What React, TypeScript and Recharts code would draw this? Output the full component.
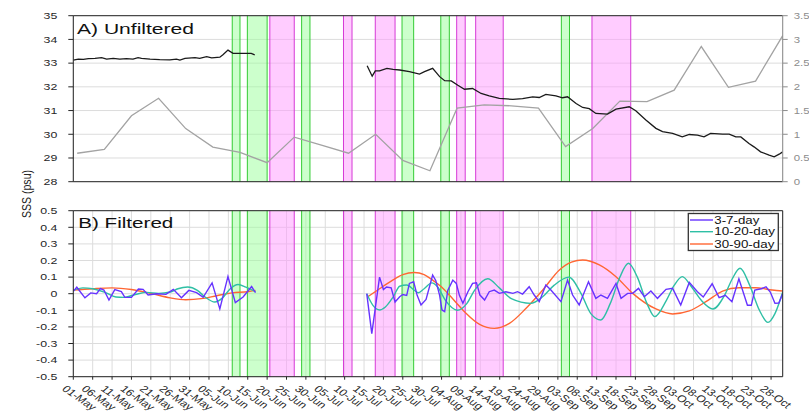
import { LineChart, Line, XAxis, YAxis, CartesianGrid, ReferenceArea, ReferenceLine } from 'recharts';

// x = days since 01-May
const dateLabels = [
  '01-May', '06-May', '11-May', '16-May', '21-May', '26-May', '31-May', '05-Jun', '10-Jun', '15-Jun',
  '20-Jun', '25-Jun', '30-Jun', '05-Jul', '10-Jul', '15-Jul', '20-Jul', '25-Jul', '30-Jul', '04-Aug',
  '09-Aug', '14-Aug', '19-Aug', '24-Aug', '29-Aug', '03-Sep', '08-Sep', '13-Sep', '18-Sep', '23-Sep',
  '28-Sep', '03-Oct', '08-Oct', '13-Oct', '18-Oct', '23-Oct', '28-Oct',
];
const dayTicks = dateLabels.map((_, i) => i * 5);

const sssTicks = [28, 29, 30, 31, 32, 33, 34, 35];
const rightTicks = [0, 0.5, 1, 1.5, 2, 2.5, 3, 3.5];
const filtTicks = [-0.5, -0.4, -0.3, -0.2, -0.1, 0, 0.1, 0.2, 0.3, 0.4, 0.5];

const greenPeriods = [[41.0, 43.0], [44.9, 50.0], [58.9, 61.05], [84.8, 87.8], [94.8, 97.0], [125.9, 128.0]];
const magentaPeriods = [[50.7, 57.0], [69.7, 71.9], [77.9, 83.0], [98.9, 101.1], [103.8, 110.9], [133.8, 143.8]];

// A) unfiltered SSS (black)
const sss = [
  [0, 33.13], [1.3, 33.17], [2.6, 33.16], [3.9, 33.19], [5.6, 33.2], [7.3, 33.23], [8.6, 33.17], [10.3, 33.2],
  [12.0, 33.17], [13.7, 33.19], [15.4, 33.17], [16.7, 33.23], [17.6, 33.2], [19.8, 33.17], [22.3, 33.15],
  [24.9, 33.14], [26.6, 33.17], [27.5, 33.13], [28.8, 33.2], [31.4, 33.23], [32.6, 33.2], [34.4, 33.27],
  [35.7, 33.22], [37.8, 33.25], [38.6, 33.35], [39.9, 33.55], [41.2, 33.41], [42.9, 33.41], [45.9, 33.41],
  [46.8, 33.35], [60, null],
  [75.8, 32.89], [77.1, 32.45], [77.9, 32.67], [79.0, 32.67], [80.9, 32.78], [82.5, 32.74], [84.2, 32.71],
  [86.7, 32.64], [89.3, 32.54], [90.6, 32.64], [92.7, 32.78], [94.5, 32.43], [95.8, 32.26], [97.5, 32.25],
  [99.2, 32.07], [100.9, 31.9], [103.0, 31.93], [105.2, 31.72], [107.3, 31.62], [109.9, 31.51], [113.4, 31.47],
  [115.9, 31.5], [118.5, 31.58], [120.2, 31.55], [121.9, 31.68], [124.5, 31.62], [126.2, 31.54], [127.5, 31.58],
  [129.7, 31.3], [131.4, 31.13], [133.1, 31.08], [134.8, 30.88], [137.8, 30.85], [140.0, 31.06], [143.4, 31.16],
  [145.1, 30.99], [147.7, 30.6], [150.3, 30.25], [152.0, 30.11], [154.6, 30.04], [157.1, 29.89], [158.9, 29.99],
  [161.0, 29.96], [162.7, 29.89], [164.4, 30.04], [167.5, 30.01], [169.2, 30.01], [170.9, 29.89], [172.2, 29.89],
  [174.3, 29.61], [175.6, 29.47], [177.3, 29.26], [179.5, 29.12], [180.8, 29.05], [182.1, 29.16], [183, 29.26],
];

// A) weekly series on the right axis (grey)
const weekly = [
  [1, 0.6], [8, 0.68], [15, 1.39], [22, 1.76], [29, 1.12], [36, 0.73], [43, 0.62], [50, 0.4], [57, 0.94],
  [64, 0.77], [71, 0.6], [78, 1.0], [85, 0.45], [92, 0.23], [99, 1.55], [106, 1.62], [113, 1.6], [120, 1.55],
  [127, 0.74], [134, 1.12], [141, 1.7], [148, 1.69], [155, 1.93], [162, 2.85], [169, 1.99], [176, 2.12], [183, 3.08],
];

// B) filtered
const band3to7 = [
  [0, 0.014], [0.9, 0.039], [3.0, -0.025], [4.5, 0.005], [6.0, 0.0], [7.0, 0.031], [7.9, 0.022], [9.2, -0.038],
  [10.7, 0.025], [12.4, 0.012], [13.3, -0.022], [15.0, -0.022], [16.8, 0.028], [18.0, 0.026], [19.3, -0.008],
  [21.5, 0.0], [23.9, -0.004], [25.8, 0.026], [27.9, -0.024], [29.8, 0.02], [31.8, 0.006], [33.5, -0.022],
  [35.8, 0.065], [37.8, -0.092], [39.9, 0.104], [41.8, -0.054], [43.8, -0.02], [46.0, 0.043], [47.0, 0.006],
  [60, null],
  [75.7, 0.0], [77.0, -0.24], [79.0, 0.1], [80.0, 0.025], [80.8, 0.04], [82.0, 0.035], [83.0, -0.05],
  [84.2, -0.018], [85.0, -0.005], [86.0, -0.01], [86.7, 0.062], [87.8, 0.072], [88.7, -0.01], [89.7, -0.068],
  [91.0, -0.035], [92.7, 0.112], [93.5, 0.08], [94.5, -0.01], [95.1, -0.098], [95.8, -0.108], [96.6, 0.02],
  [97.9, 0.082], [98.8, 0.062], [99.6, -0.01], [100.5, -0.058], [101.8, 0.012], [103.0, 0.062], [104.0, 0.066],
  [104.9, -0.008], [106.1, -0.038], [107.3, 0.012], [108.6, 0.022], [109.9, 0.002], [111.6, 0.012], [113.4, 0.002],
  [114.6, 0.012], [115.9, -0.002], [117.6, 0.042], [118.9, -0.008], [120.2, -0.048], [121.9, 0.052], [123.2, 0.022],
  [125.8, -0.048], [127.5, 0.082], [128.8, -0.008], [130.5, -0.068], [132.9, 0.072], [134.8, -0.028], [136.1, -0.008],
  [137.8, -0.028], [140.0, 0.062], [141.3, -0.028], [143.0, 0.002], [144.3, 0.002], [145.8, 0.032], [147.3, -0.018],
  [149.0, 0.016], [150.7, -0.028], [152.9, 0.026], [154.6, 0.032], [156.7, -0.068], [158.9, 0.068], [161.0, 0.012],
  [162.5, -0.02], [164.8, 0.06], [166.6, -0.024], [168.2, -0.01], [169.9, -0.048], [171.7, 0.09], [173.9, -0.07],
  [174.9, -0.07], [175.8, 0.022], [177.5, 0.03], [178.7, 0.042], [179.8, 0.01], [181.0, -0.058], [182.0, -0.056],
  [183, 0.0],
];

const band10to20 = [
  [0, 0.02], [2.5, 0.035], [5, 0.03], [8, 0.01], [11, -0.02], [13, -0.022], [16, -0.005], [19, 0.008], [22, 0.002],
  [25, 0.01], [27, 0.03], [29.5, 0.04], [32, 0.02], [34, -0.02], [36.5, -0.05], [38.5, -0.025], [40.5, 0.03],
  [42.5, 0.055], [44.5, 0.04], [47, 0.012], [60, null],
  [75.7, 0.0], [77.3, -0.07], [79.0, -0.098], [80.5, -0.08], [82.5, -0.02], [84.2, 0.045], [86.0, 0.052],
  [88.0, 0.02], [89.0, 0.006], [90.5, 0.03], [92.5, 0.065], [94, 0.04], [96, -0.04], [99.1, -0.1], [101.5, -0.06],
  [103.5, 0.02], [106.9, 0.09], [109.9, 0.035], [113, -0.03], [118, -0.058], [121, -0.02], [124, 0.05],
  [127.8, 0.1], [131, 0.0], [133.5, -0.12], [136.1, -0.158], [138.5, -0.06], [141, 0.1], [143.2, 0.183],
  [145.5, 0.1], [148, -0.06], [150, -0.138], [153, -0.04], [155, 0.05], [157.1, 0.103], [159.5, 0.04],
  [162, -0.04], [165, -0.092], [168, -0.01], [170, 0.09], [172, 0.153], [174.5, 0.05], [177, -0.1],
  [179.2, -0.173], [181, -0.12], [183, 0.01],
];

const band30to90 = [
  [0, 0.022], [5, 0.03], [10, 0.035], [15, 0.025], [20, 0.002], [25, -0.025], [29, -0.036], [33, -0.03],
  [37, -0.012], [41, 0.005], [45, 0.012], [47, 0.02], [60, null],
  [76, -0.018], [79, 0.03], [82.4, 0.082], [85, 0.115], [88, 0.128], [90.5, 0.115], [92.7, 0.082], [95, 0.04],
  [97, -0.008], [99, -0.06], [101.3, -0.118], [104.8, -0.185], [108.6, -0.209], [112.5, -0.179], [116.8, -0.088],
  [121.1, 0.022], [125.4, 0.143], [128.5, 0.19], [131.4, 0.203], [135.7, 0.173], [140, 0.102], [144.3, 0.002],
  [150.3, -0.092], [154.6, -0.122], [158.9, -0.104], [163.2, -0.048], [167.5, 0.016], [171.7, 0.036],
  [176, 0.036], [180.3, 0.022], [183, 0.016],
];

const toPts = (a: (number | null)[][]) => a.map(([d, v]) => ({ d, v }));

const AXIS = '#262626';
const GREY_AXIS = '#8c8c8c';
const GRID = '#dcdcdc';
const FONT = 'Liberation Sans, Arial, sans-serif';
const PURPLE = '#6633ff';
const TEAL = '#2fbfa5';
const ORANGE = '#ff6633';

const LeftTick = ({ x, y, payload }: any) => (
  <text transform={`translate(${x},${y}) scale(1.3,1)`} textAnchor="end" dy="0.35em" fontSize={9.5} fontFamily={FONT} fill={AXIS}>
    {payload.value}
  </text>
);

const RightTick = ({ x, y, payload }: any) => (
  <text transform={`translate(${x},${y}) scale(1.2,1)`} textAnchor="start" dy="0.35em" fontSize={9.5} fontFamily={FONT} fill={GREY_AXIS}>
    {payload.value}
  </text>
);

const DateTick = ({ x, y, payload }: any) => (
  <text transform={`translate(${x - 12},${y + 8}) scale(1.3,1) rotate(42)`} textAnchor="start" fontSize={9.5} fontFamily={FONT} fill={AXIS}>
    {dateLabels[Math.round(payload.value / 5)]}
  </text>
);

const shading = (tag: string) => [
  ...greenPeriods.map(([a, b], i) => (
    <ReferenceArea key={`${tag}ga${i}`} x1={a} x2={b} fill="#99ff99" fillOpacity={0.5} stroke="none" />
  )),
  ...magentaPeriods.map(([a, b], i) => (
    <ReferenceArea key={`${tag}ma${i}`} x1={a} x2={b} fill="#ff99ff" fillOpacity={0.5} stroke="none" />
  )),
  ...greenPeriods.flat().map((x, i) => (
    <ReferenceLine key={`${tag}gl${i}`} x={x} stroke="#33cc33" strokeWidth={1} />
  )),
  ...magentaPeriods.flat().map((x, i) => (
    <ReferenceLine key={`${tag}ml${i}`} x={x} stroke="#d63ad6" strokeWidth={1} />
  )),
];

export default function App() {
  return (
    <div style={{ position: 'absolute', left: 0, top: 0, width: 809, height: 417, background: '#fff' }}>
      <div style={{ position: 'absolute', left: 0, top: 0 }}>
        <LineChart width={809} height={195} margin={{ top: 10.7, right: 0, bottom: 0, left: 0 }}>
          <CartesianGrid stroke={GRID} />
          {shading('a')}
          <XAxis dataKey="d" type="number" domain={[0, 183]} ticks={dayTicks} tick={false} tickSize={3}
            height={13.3} stroke={AXIS} interval={0} allowDataOverflow />
          <XAxis xAxisId="top" orientation="top" type="number" domain={[0, 183]} ticks={dayTicks} tick={false}
            tickSize={3} height={5} stroke={AXIS} interval={0} />
          <YAxis domain={[28, 35]} ticks={sssTicks} width={73.3} tickSize={5} tickMargin={11} stroke={AXIS}
            tick={<LeftTick />} interval={0} allowDataOverflow />
          <YAxis yAxisId="r" orientation="right" domain={[0, 3.5]} ticks={rightTicks} width={26.3} tickSize={5}
            tickMargin={6} stroke={GREY_AXIS} tick={<RightTick />} interval={0} allowDataOverflow />
          <Line yAxisId="r" data={toPts(weekly)} dataKey="v" stroke="#a3a3a3" strokeWidth={1.3} dot={false}
            type="linear" isAnimationActive={false} />
          <Line data={toPts(sss)} dataKey="v" stroke="#1a1a1a" strokeWidth={1.3} dot={false} type="linear"
            connectNulls={false} isAnimationActive={false} />
        </LineChart>
      </div>
      <div style={{ position: 'absolute', left: 0, top: 195 }}>
        <LineChart width={809} height={222} margin={{ top: 10.7, right: 0, bottom: 0, left: 0 }}>
          <CartesianGrid stroke={GRID} />
          {shading('b')}
          <XAxis dataKey="d" type="number" domain={[0, 183]} ticks={dayTicks} tick={<DateTick />} tickSize={3}
            tickMargin={2} height={40.3} stroke={AXIS} interval={0} allowDataOverflow />
          <XAxis xAxisId="top" orientation="top" type="number" domain={[0, 183]} ticks={dayTicks} tick={false}
            tickSize={3} height={5} stroke={AXIS} interval={0} />
          <YAxis domain={[-0.5, 0.5]} ticks={filtTicks} width={73.3} tickSize={5} tickMargin={11} stroke={AXIS}
            tick={<LeftTick />} interval={0} allowDataOverflow />
          <YAxis yAxisId="r" orientation="right" domain={[-0.5, 0.5]} ticks={filtTicks} width={26.3} tickSize={5}
            tick={false} stroke={AXIS} interval={0} />
          <Line data={toPts(band30to90)} dataKey="v" stroke={ORANGE} strokeWidth={1.4} dot={false} type="monotone"
            connectNulls={false} isAnimationActive={false} />
          <Line data={toPts(band10to20)} dataKey="v" stroke={TEAL} strokeWidth={1.4} dot={false} type="monotone"
            connectNulls={false} isAnimationActive={false} />
          <Line data={toPts(band3to7)} dataKey="v" stroke={PURPLE} strokeWidth={1.4} dot={false} type="linear"
            connectNulls={false} isAnimationActive={false} />
        </LineChart>
      </div>
      <svg width={809} height={417} style={{ position: 'absolute', left: 0, top: 0, pointerEvents: 'none' }}>
        <text x={77} y={34} fontSize={15.5} fontFamily={FONT} fill="#111" textLength={117} lengthAdjust="spacingAndGlyphs">
          A) Unfiltered
        </text>
        <text x={78.3} y={228.3} fontSize={15.5} fontFamily={FONT} fill="#111" textLength={95} lengthAdjust="spacingAndGlyphs">
          B) Filtered
        </text>
        <text transform="translate(31,194) rotate(-90)" textAnchor="middle" fontSize={13} fontFamily={FONT} fill={AXIS}
          textLength={48} lengthAdjust="spacingAndGlyphs">
          SSS (psu)
        </text>
        <rect x={688.3} y={213.5} width={90} height={37} fill="#fff" stroke="#333" strokeWidth={1.3} />
        {[
          { label: '3-7-day', color: PURPLE, y: 220, w: 45 },
          { label: '10-20-day', color: TEAL, y: 231.7, w: 60.7 },
          { label: '30-90-day', color: ORANGE, y: 244, w: 60 },
        ].map((it) => (
          <g key={it.label}>
            <line x1={690} x2={713} y1={it.y} y2={it.y} stroke={it.color} strokeWidth={1.4} />
            <text x={714.3} y={it.y + 3.6} fontSize={10} fontFamily={FONT} fill="#111" textLength={it.w}
              lengthAdjust="spacingAndGlyphs">
              {it.label}
            </text>
          </g>
        ))}
      </svg>
    </div>
  );
}
